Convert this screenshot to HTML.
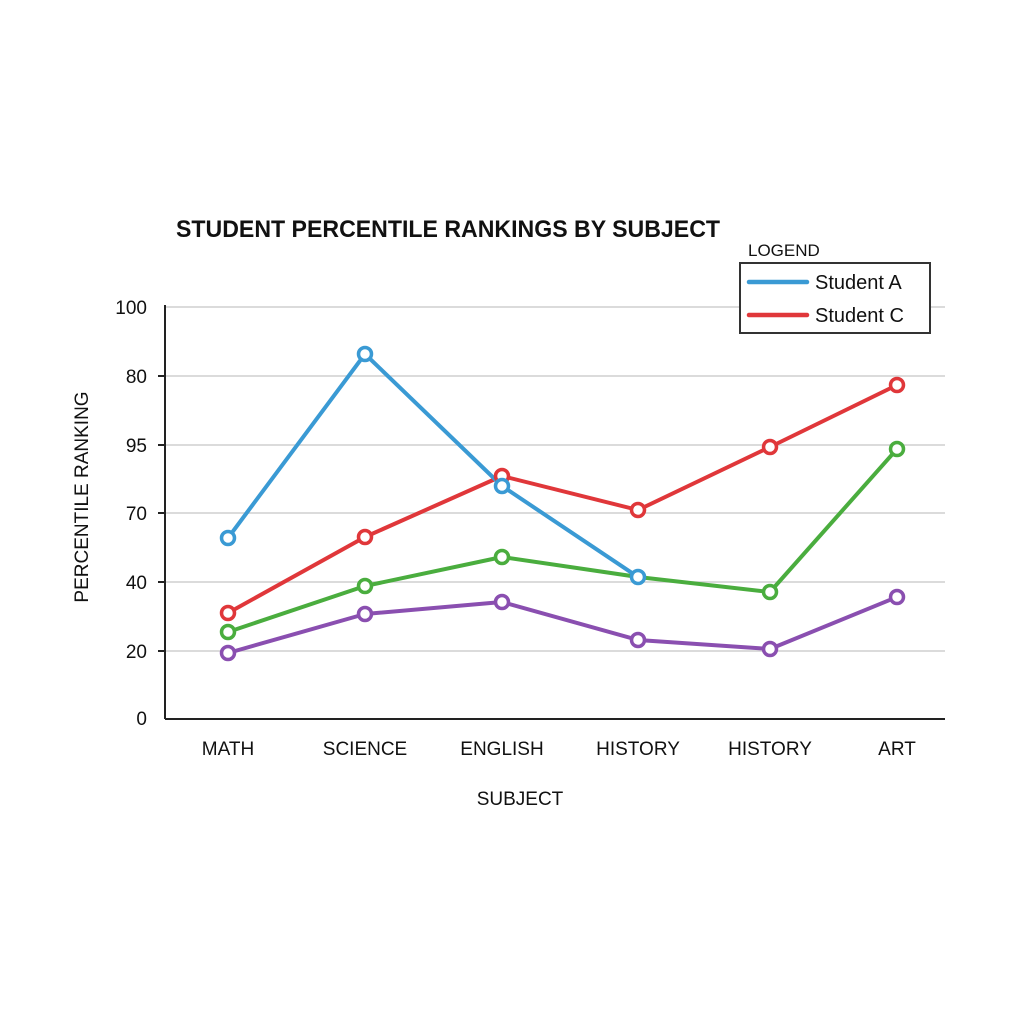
<!DOCTYPE html>
<html><head><meta charset="utf-8"><style>
html,body{margin:0;padding:0;background:#fff;}
svg{display:block;}
text{font-family:"Liberation Sans",sans-serif;fill:#111;}
</style></head><body>
<svg width="1024" height="1024" viewBox="0 0 1024 1024">
<rect width="1024" height="1024" fill="#fff"/>
<text x="176" y="237" font-size="24" font-weight="bold" textLength="544" lengthAdjust="spacingAndGlyphs">STUDENT PERCENTILE RANKINGS BY SUBJECT</text>
<g stroke="#cfcfcf" stroke-width="1.5">
<line x1="165" y1="307" x2="945" y2="307"/>
<line x1="165" y1="376" x2="945" y2="376"/>
<line x1="165" y1="445" x2="945" y2="445"/>
<line x1="165" y1="513" x2="945" y2="513"/>
<line x1="165" y1="582" x2="945" y2="582"/>
<line x1="165" y1="651" x2="945" y2="651"/>
</g>
<g stroke="#222" stroke-width="2">
<line x1="165" y1="305" x2="165" y2="719"/>
<line x1="165" y1="719" x2="945" y2="719"/>
<line x1="158" y1="376" x2="165" y2="376"/>
<line x1="158" y1="445" x2="165" y2="445"/>
<line x1="158" y1="513" x2="165" y2="513"/>
<line x1="158" y1="582" x2="165" y2="582"/>
<line x1="158" y1="651" x2="165" y2="651"/>
</g>
<g font-size="19" text-anchor="end">
<text x="147" y="314">100</text>
<text x="147" y="383">80</text>
<text x="147" y="452">95</text>
<text x="147" y="520">70</text>
<text x="147" y="589">40</text>
<text x="147" y="658">20</text>
<text x="147" y="725">0</text>
</g>
<text transform="translate(88,497) rotate(-90)" font-size="19" text-anchor="middle">PERCENTILE RANKING</text>
<g font-size="19" text-anchor="middle">
<text x="228" y="755">MATH</text>
<text x="365" y="755">SCIENCE</text>
<text x="502" y="755">ENGLISH</text>
<text x="638" y="755">HISTORY</text>
<text x="770" y="755">HISTORY</text>
<text x="897" y="755">ART</text>
<text x="520" y="805">SUBJECT</text>
</g>
<g fill="none" stroke-width="4" stroke-linejoin="round">
<polyline stroke="#8a4fb0" points="228,653 365,614 502,602 638,640 770,649 897,597"/>
<polyline stroke="#4aad3e" points="228,632 365,586 502,557 638,577 770,592 897,449"/>
<polyline stroke="#e0373a" points="228,613 365,537 502,476 638,510 770,447 897,385"/>
<polyline stroke="#3a9ad4" points="228,538 365,354 502,486 638,577"/>
</g>
<g fill="#fff" stroke-width="3.5">
<g stroke="#8a4fb0"><circle cx="228" cy="653" r="6.5"/><circle cx="365" cy="614" r="6.5"/><circle cx="502" cy="602" r="6.5"/><circle cx="638" cy="640" r="6.5"/><circle cx="770" cy="649" r="6.5"/><circle cx="897" cy="597" r="6.5"/></g>
<g stroke="#4aad3e"><circle cx="228" cy="632" r="6.5"/><circle cx="365" cy="586" r="6.5"/><circle cx="502" cy="557" r="6.5"/><circle cx="770" cy="592" r="6.5"/><circle cx="897" cy="449" r="6.5"/></g>
<g stroke="#e0373a"><circle cx="228" cy="613" r="6.5"/><circle cx="365" cy="537" r="6.5"/><circle cx="502" cy="476" r="6.5"/><circle cx="638" cy="510" r="6.5"/><circle cx="770" cy="447" r="6.5"/><circle cx="897" cy="385" r="6.5"/></g>
<g stroke="#3a9ad4"><circle cx="228" cy="538" r="6.5"/><circle cx="365" cy="354" r="6.5"/><circle cx="502" cy="486" r="6.5"/><circle cx="638" cy="577" r="6.5"/></g>
</g>
<text x="748" y="256" font-size="17">LOGEND</text>
<rect x="740" y="263" width="190" height="70" fill="#fff" stroke="#333" stroke-width="2"/>
<line x1="749" y1="282" x2="807" y2="282" stroke="#3a9ad4" stroke-width="4.5" stroke-linecap="round"/>
<line x1="749" y1="315" x2="807" y2="315" stroke="#e0373a" stroke-width="4.5" stroke-linecap="round"/>
<text x="815" y="289" font-size="20">Student A</text>
<text x="815" y="322" font-size="20">Student C</text>
</svg>
</body></html>
